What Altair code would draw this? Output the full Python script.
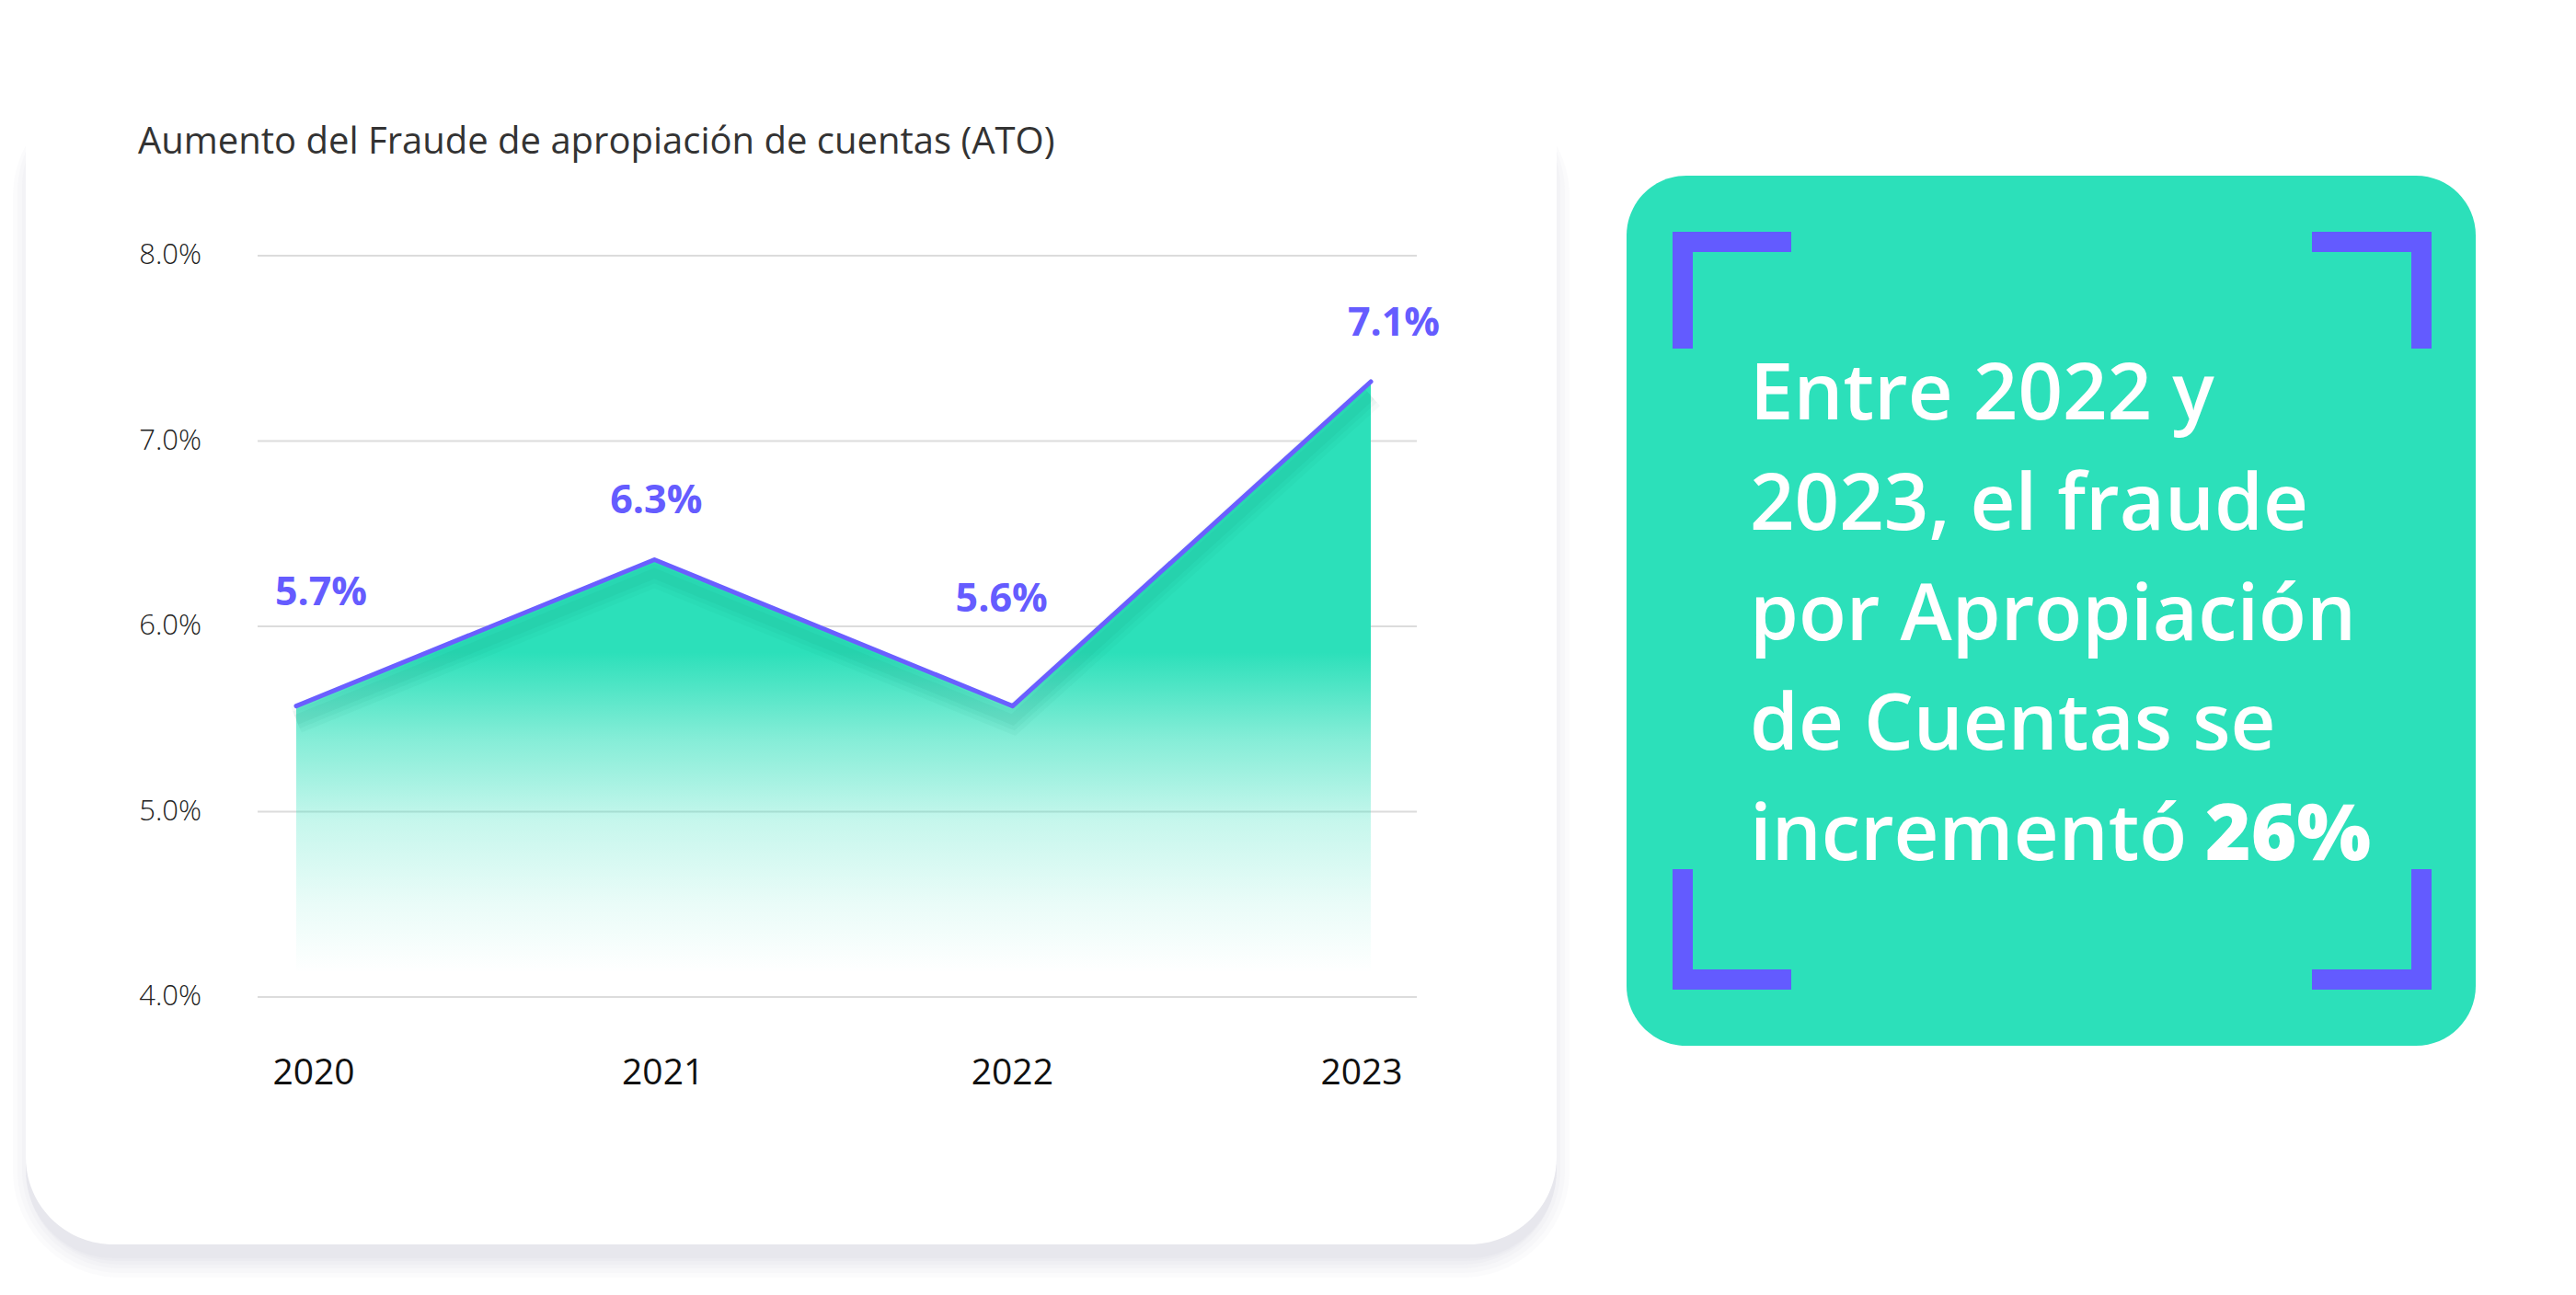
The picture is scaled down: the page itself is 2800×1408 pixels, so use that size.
import altair as alt
import pandas as pd

# ---------------- data ----------------
years = [2020, 2021, 2022, 2023]
ato_rate = [5.57, 6.36, 5.57, 7.32]          # line heights (%) as drawn
value_labels = ["5.7%", "6.3%", "5.6%", "7.1%"]  # printed labels
y_ticks = [4.0, 5.0, 6.0, 7.0, 8.0]
y_tick_labels = ["4.0%", "5.0%", "6.0%", "7.0%", "8.0%"]
title_text = "Aumento del Fraude de apropiación de cuentas (ATO)"
callout_lines = ["Entre 2022 y", "2023, el fraude", "por Apropiación", "de Cuentas se", "incrementó"]
callout_bold = "26%"

df = pd.DataFrame({"year": years, "rate": ato_rate, "label": value_labels})
ticks = pd.DataFrame({"v": y_ticks, "label": y_tick_labels})
one = pd.DataFrame({"k": [0]})

# ---------------- styles ----------------
W, H = 2784, 1392
FONT = "Open Sans"
TEAL = "#2CE0BA"
PURPLE = "#655CFF"
LINE_C = "#6A5FFF"

xs = alt.Scale(domain=[2020, 2023], range=[314, 1482], nice=False, zero=False)
xs_lab = alt.Scale(domain=[2020, 2023], range=[333, 1472], nice=False, zero=False)
ys = alt.Scale(domain=[4, 8], range=[1076, 270], nice=False, zero=False)

label_dx = [27, 2, -12, 25]
label_dy = [-123, -63, -116, -63]


def box(x1, y1, x2, y2, color, radius=0, opacity=1.0):
    return alt.Chart(one).mark_rect(
        color=color, cornerRadius=radius, opacity=opacity
    ).encode(
        x=alt.value(x1), x2=alt.value(x2), y=alt.value(y1), y2=alt.value(y2)
    )


def text(t, x, y, size, color, weight=400, align="left", baseline="alphabetic"):
    return alt.Chart(one).mark_text(
        text=t, font=FONT, fontSize=size, fontWeight=weight, color=color,
        align=align, baseline=baseline,
    ).encode(x=alt.value(x), y=alt.value(y))


layers = []

# card shadow + card
CX1, CY1, CX2, CY2 = 20, 59, 1684, 1345
for s in [22, 17, 12, 8, 4, 1]:
    side = max(s - 8, 0)
    layers.append(box(CX1 - side, CY1 + 30, CX2 + side, CY2 + 14 + s,
                      "#8d93b8", radius=95 + s, opacity=0.037))
layers.append(box(CX1, CY1, CX2, CY2, "#ffffff", radius=95))

# title
layers.append(text(title_text, 142, 159, 40, "#333333"))

# gridlines
layers.append(
    alt.Chart(ticks).mark_rule(color="#dcdcdc", strokeWidth=2).encode(
        x=alt.value(272), x2=alt.value(1532),
        y=alt.Y("v:Q", scale=ys, axis=None),
    )
)

# y tick labels
layers.append(
    alt.Chart(ticks).mark_text(
        align="right", baseline="middle", font=FONT, fontSize=31,
        fontWeight=300, color="#222222",
    ).encode(
        x=alt.value(211), y=alt.Y("v:Q", scale=ys, axis=None), text="label:N"
    )
)

# area with vertical fade
area_grad = alt.Gradient(
    gradient="linear",
    stops=[
        alt.GradientStop(color="rgba(44,224,186,1)", offset=0),
        alt.GradientStop(color="rgba(44,224,186,1)", offset=0.44),
        alt.GradientStop(color="rgba(44,224,186,0.58)", offset=0.58),
        alt.GradientStop(color="rgba(44,224,186,0.27)", offset=0.714),
        alt.GradientStop(color="rgba(44,224,186,0.10)", offset=0.848),
        alt.GradientStop(color="rgba(44,224,186,0)", offset=0.961),
    ],
    x1=1, x2=1, y1=0, y2=1,
)
layers.append(
    alt.Chart(df).mark_area(color=area_grad).encode(
        x=alt.X("year:Q", scale=xs, axis=None),
        y=alt.Y("rate:Q", scale=ys, axis=None),
        y2=alt.datum(y_ticks[0]),
    )
)

# soft shadow below the line (several faint strokes)
for sw, op in [(30, 0.035), (20, 0.045), (11, 0.05)]:
    layers.append(
        alt.Chart(df).mark_line(color="#0b6f5a", strokeWidth=sw, opacity=op).encode(
            x=alt.X("year:Q", scale=xs, axis=None),
            y=alt.Y("rate:Q", scale=ys, axis=None),
            yOffset=alt.value(15),
        )
    )

# line
layers.append(
    alt.Chart(df).mark_line(
        color=LINE_C, strokeWidth=5, strokeCap="round", strokeJoin="round"
    ).encode(
        x=alt.X("year:Q", scale=xs, axis=None),
        y=alt.Y("rate:Q", scale=ys, axis=None),
    )
)

# value labels
for i in range(len(years)):
    layers.append(
        alt.Chart(df.iloc[[i]]).mark_text(
            font=FONT, fontSize=43, fontWeight="bold", color=PURPLE,
            align="center", baseline="middle", dx=label_dx[i], dy=label_dy[i],
        ).encode(
            x=alt.X("year:Q", scale=xs, axis=None),
            y=alt.Y("rate:Q", scale=ys, axis=None),
            text="label:N",
        )
    )

# x labels
layers.append(
    alt.Chart(df).mark_text(
        font=FONT, fontSize=39, color="#111111", align="center", baseline="middle"
    ).encode(
        x=alt.X("year:Q", scale=xs_lab, axis=None),
        y=alt.value(1159),
        text="year:N",
    )
)

# callout box
layers.append(box(1760, 183, 2683, 1129, TEAL, radius=65))
bracket_color = "#635BFF"
for (x1, y1, x2, y2) in [
    (1810, 244, 1939, 266), (1810, 244, 1832, 371),
    (2505, 244, 2635, 266), (2613, 244, 2635, 371),
    (1810, 1046, 1939, 1068), (1810, 937, 1832, 1068),
    (2505, 1046, 2635, 1068), (2613, 937, 2635, 1068),
]:
    layers.append(box(x1, y1, x2, y2, bracket_color))

baselines = [448, 568, 688, 807, 927]
for line, yb in zip(callout_lines, baselines):
    layers.append(text(line, 1894, yb, 85, "#ffffff", weight=600))
layers.append(text(callout_bold, 2389, baselines[-1], 85, "#ffffff", weight=800))

chart = alt.layer(*layers).resolve_scale(x="independent").properties(
    width=W, height=H,
    autosize=alt.AutoSizeParams(type="none"),
    padding=0,
    background="#ffffff",
).configure_view(strokeWidth=0)

chart.save("out.html", embed_options={"renderer": "svg", "actions": False})
